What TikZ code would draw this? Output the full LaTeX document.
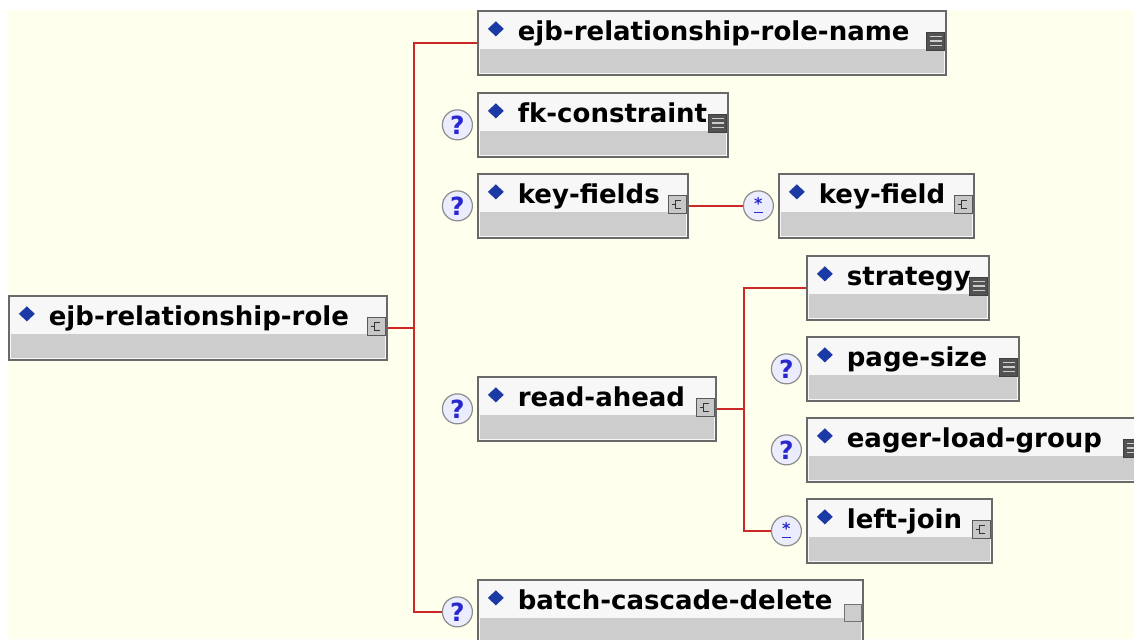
\documentclass[tikz,border=0pt]{standalone}
\usepackage{fontspec}
\setmainfont{DejaVu Sans}
\usepackage{xcolor}
\usepackage{tikz}
\usetikzlibrary{positioning, calc}
\definecolor{bgcream}{RGB}{255,255,238}
\definecolor{linkred}{RGB}{204,40,40}
\definecolor{boxedge}{RGB}{105,105,105}
\definecolor{boxtop}{RGB}{247,247,247}
\definecolor{boxgray}{RGB}{205,205,205}
\definecolor{diablue}{RGB}{28,58,165}
\definecolor{qblue}{RGB}{40,40,205}
\definecolor{qfill}{RGB}{236,236,255}
\tikzstyle{elem} = [rectangle, draw=boxedge, line width=0.85pt, fill=boxtop, anchor=north west, inner xsep=0pt, inner ysep=0pt, align=left, text height=15pt, text depth=17pt, font=\fontsize{13pt}{16pt}\selectfont\bfseries, execute at begin node={\hspace*{20pt}}, path picture={\fill[boxgray] ([shift={(1pt,1pt)}]path picture bounding box.south west) rectangle ([shift={(-1pt,-19pt)}]path picture bounding box.north east); \fill[diablue] ([shift={(9pt,-5.25pt)}]path picture bounding box.north west) -- ++(4pt,-3.75pt) -- ++(-4pt,-3.75pt) -- ++(-4pt,3.75pt) -- cycle;}]
\tikzstyle{cicon} = [rectangle, draw=black!65, line width=0.5pt, fill=black!22, minimum size=9pt, inner sep=0pt, path picture={\draw[black!80, line width=0.6pt] ([shift={(6.5pt,2.5pt)}]path picture bounding box.south west) -- ++(-3pt,0) -- ++(0,4pt) -- ++(3pt,0); \draw[black!80, line width=0.5pt] ([shift={(2pt,4.5pt)}]path picture bounding box.south west) -- ++(1.5pt,0);}]
\tikzstyle{sicon} = [rectangle, draw=black!75, fill=black!68, minimum size=9pt, inner sep=0pt, path picture={\foreach \k in {2.3,4.5,6.7} \draw[black!20, line width=0.6pt] ([shift={(1.5pt,\k pt)}]path picture bounding box.south west) -- ++(6pt,0);}]
\tikzstyle{eicon} = [rectangle, draw=black!55, line width=0.5pt, fill=boxgray, minimum size=8.5pt, inner sep=0pt]
\tikzstyle{qcirc} = [circle, draw=black!45, line width=0.6pt, fill=qfill, minimum size=15pt, inner sep=0pt, text=qblue, font=\fontsize{12.5pt}{12pt}\selectfont\bfseries]
\tikzstyle{link} = [draw=linkred, line width=1pt]

\begin{document}
\begin{tikzpicture}[x=0.5pt, y=-0.5pt]
    % Canvas
    \path[use as bounding box, clip] (0,0) rectangle (1134,639);
    \fill[white] (0,0) rectangle (1134,639);
    \fill[bgcream] (8,10) rectangle (1134,639);

    % Root element
    
\node[elem, text width=189pt] (root) at (8,295) {ejb-relationship-role};
    
    % Children of the root
    
\node[elem, text width=234pt] (rolename) at (477,10) {ejb-relationship-role-name};
    
\node[elem, text width=125pt] (fkcons) at (477,92) {fk-constraint};
    
\node[elem, text width=105pt] (keyflds) at (477,173) {key-fields};
    
\node[elem, text width=119pt] (readahd) at (477,376) {read-ahead};
    
\node[elem, text width=192.5pt] (batchcd) at (477,579) {batch-cascade-delete};
    
    % Inner elements
    
\node[elem, text width=97.5pt] (keyfld) at (778,173) {key-field};
    
\node[elem, text width=91pt] (strategy) at (806,255) {strategy};
    
\node[elem, text width=106pt] (pagesize) at (806,336) {page-size};
    
\node[elem, text width=168pt] (eagerlg) at (806,417) {eager-load-group};
    
\node[elem, text width=92.5pt] (leftjoin) at (806,498) {left-join};
    
    % Type icons
    \node[cicon] (rootic) at ([shift={(-5.75pt,-15.75pt)}]root.north east) {};
    \node[cicon] (keyfldsic) at ([shift={(-5.75pt,-15.75pt)}]keyflds.north east) {};
    \node[cicon] (keyfldic) at ([shift={(-5.75pt,-15.75pt)}]keyfld.north east) {};
    \node[cicon] (readahdic) at ([shift={(-5.75pt,-15.75pt)}]readahd.north east) {};
    \node[cicon] (leftjoinic) at ([shift={(-5.75pt,-15.75pt)}]leftjoin.north east) {};
    \node[sicon] (rolenameic) at ([shift={(-5.5pt,-15.5pt)}]rolename.north east) {};
    \node[sicon] (fkconsic) at ([shift={(-5.5pt,-15.5pt)}]fkcons.north east) {};
    \node[sicon] (strategyic) at ([shift={(-5.5pt,-15.5pt)}]strategy.north east) {};
    \node[sicon] (pagesizeic) at ([shift={(-5.5pt,-15.5pt)}]pagesize.north east) {};
    \node[sicon] (eagerlgic) at ([shift={(-5.5pt,-15.5pt)}]eagerlg.north east) {};
    \node[eicon] (batchcdic) at ([shift={(-5.5pt,-16.75pt)}]batchcd.north east) {};
    
    % Occurrence marks
    \node[qcirc, left=2pt of fkcons] (fkq) {?};
    \node[qcirc, left=2pt of keyflds] (keyfldsq) {?};
    \node[qcirc, left=2pt of readahd] (readahdq) {?};
    \node[qcirc, left=2pt of batchcd] (batchq) {?};
    \node[qcirc, left=2pt of pagesize] (pageq) {?};
    \node[qcirc, left=2pt of eagerlg] (eagerq) {?};
    \node[qcirc, font=\fontsize{8pt}{8pt}\selectfont\bfseries, left=2pt of keyfld] (keyfldst) {\underline{*}};
    \node[qcirc, font=\fontsize{8pt}{8pt}\selectfont\bfseries, left=2pt of leftjoin] (leftst) {\underline{*}};
    
    % Connectors
    \coordinate[right=13pt of root] (trunk);
    \coordinate[right=13.5pt of readahd] (subtrunk);
    \draw[link] (root.east) -- (trunk);
    \draw[link] (rolename.west) -| (trunk) |- (batchq.west);
    \draw[link] (keyflds.east) -- (keyfldst.west);
    \draw[link] (readahd.east) -- (subtrunk);
    \draw[link] (strategy.west) -| (subtrunk) |- (leftst.west);
\end{tikzpicture}
\end{document}
